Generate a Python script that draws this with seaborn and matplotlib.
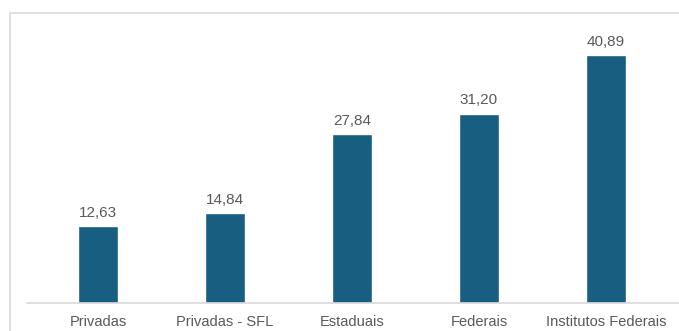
import matplotlib
matplotlib.use("Agg")
import matplotlib.pyplot as plt
import seaborn as sns
import pandas as pd
from matplotlib.patches import Rectangle

categories = ["Privadas", "Privadas - SFL", "Estaduais", "Federais", "Institutos Federais"]
values = [12.63, 14.84, 27.84, 31.20, 40.89]
value_labels = ["12,63", "14,84", "27,84", "31,20", "40,89"]

sns.set_theme(style="white")
plt.rcParams["font.family"] = ["Liberation Sans", "DejaVu Sans"]

W, H = 679, 331
fig = plt.figure(figsize=(W / 100, H / 100), dpi=100)

# outer frame (cut off at right and bottom)
fig.patches.append(Rectangle((10 / W, -0.05), 1.0, 1.05 - 13 / H, transform=fig.transFigure,
                             fill=False, edgecolor="#d9d9d9", linewidth=1.2, zorder=0))

ax = fig.add_axes([27 / W, 28 / H, 652 / W, 273 / H])
df = pd.DataFrame({"cat": categories, "val": values})
sns.barplot(data=df, x="cat", y="val", color="#185e80", saturation=1, width=0.31, ax=ax)
ax.set_xlim(-0.559, 4.575)
ax.set_ylim(0, 45)
for s in ax.spines.values():
    s.set_visible(False)
ax.axhline(0, color="#d9d9d9", linewidth=1.2, clip_on=False)
ax.set_yticks([])
ax.set_xlabel("")
ax.set_ylabel("")
ax.tick_params(axis="x", length=0, pad=8.5, labelsize=10.5, labelcolor="#595959")
for i, (v, lab) in enumerate(zip(values, value_labels)):
    ax.annotate(lab, (i, v), xytext=(0, 4.5), textcoords="offset points", ha="center", va="bottom",
                fontsize=11, color="#595959")
ax.patch.set_alpha(0)
fig.savefig("out.png", dpi=100)
